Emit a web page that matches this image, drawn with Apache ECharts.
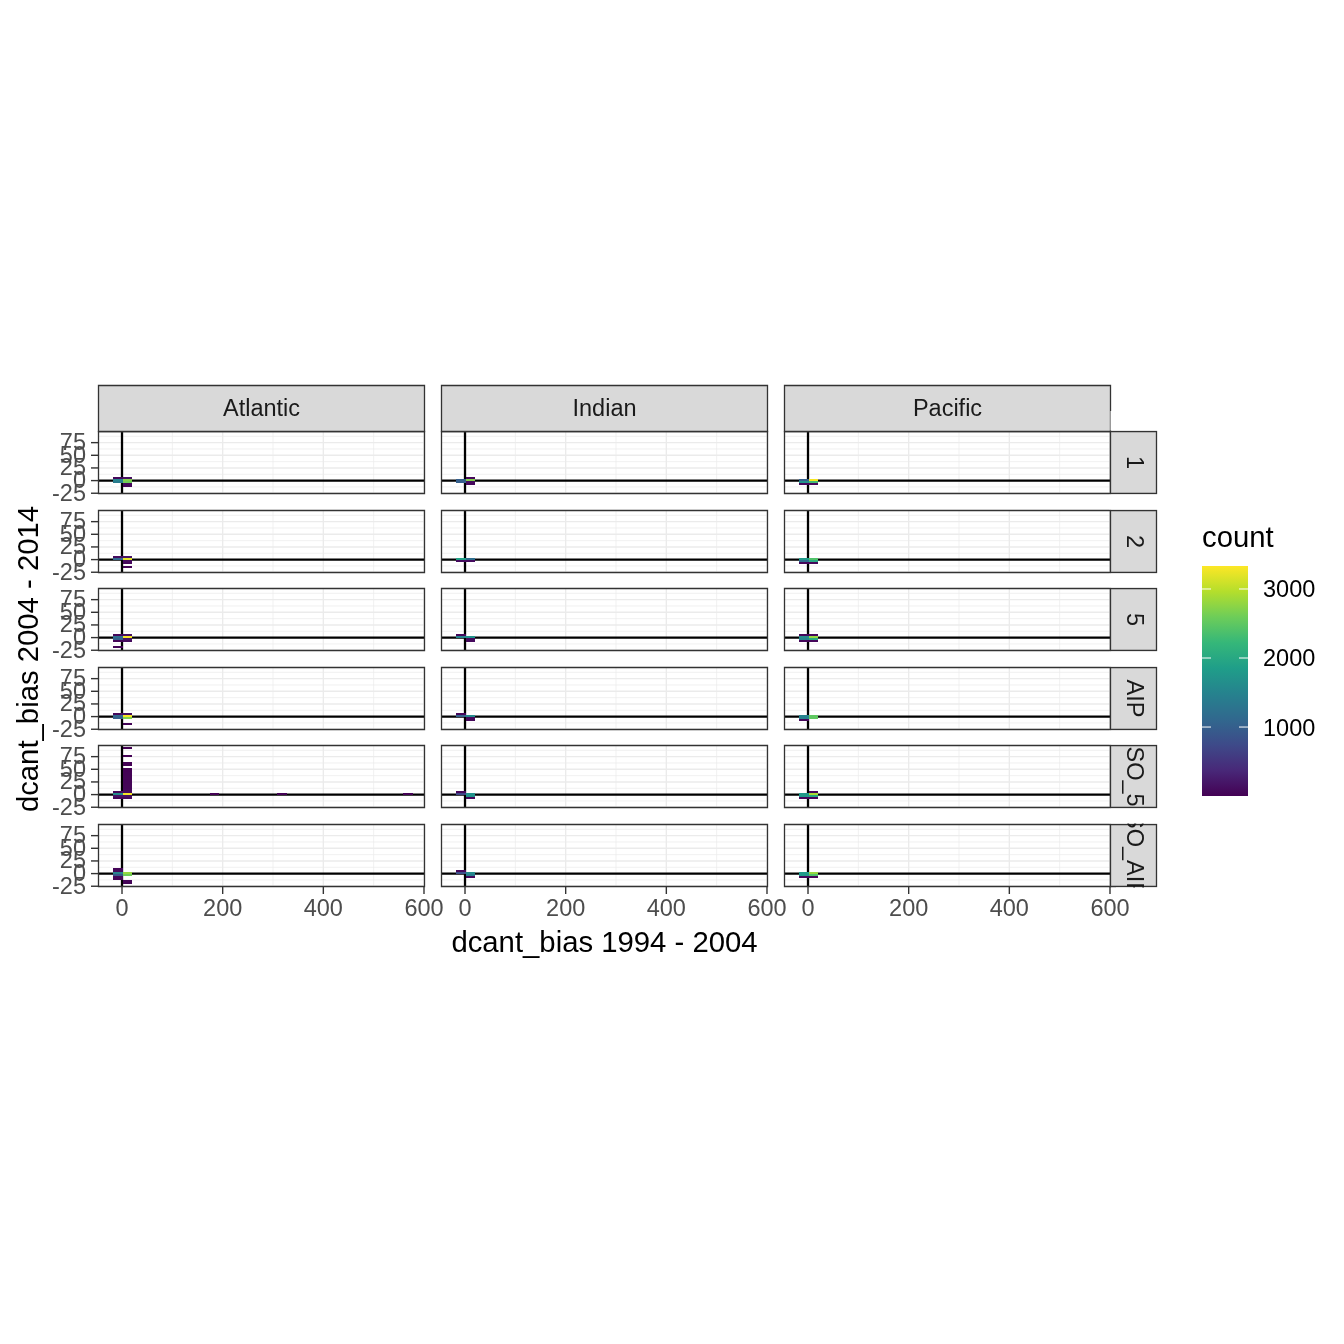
<!DOCTYPE html>
<html><head><meta charset="utf-8">
<script src="https://cdn.jsdelivr.net/npm/echarts@6/dist/echarts.min.js"></script>
<style>html,body{margin:0;padding:0;background:#fff}#c{width:1344px;height:1344px}</style>
</head><body><div id="c"></div>
<script>
// ---------------- data ----------------
const columns = ['Atlantic', 'Indian', 'Pacific'];
const rows = ['1', '2', '5', 'AIP', 'SO_5', 'SO_AIP'];
const xTicks = [0, 200, 400, 600];
const xMinor = [100, 300, 500];
const yTicks = [-25, 0, 25, 50, 75];
const yMinor = [-12.5, 12.5, 37.5, 62.5, 87.5];
const legendTicks = [1000, 2000, 3000];
const countMin = 1, countMax = 3333;
const binW = 19.2, binH = 4.1;
const xTitle = 'dcant_bias 1994 - 2004';
const yTitle = 'dcant_bias 2004 - 2014';
const legendTitle = 'count';

// bins: [x start, y start, count]
const atlantic_1 = [[-17.9,3.7,60],[-17.9,-0.4,1500],[-17.9,-4.5,1400],[1.3,3.7,150],[1.3,-0.4,2700],[1.3,-4.5,2600],[1.3,-8.6,80],[1.3,-12.7,40]];
const atlantic_2 = [[-17.9,3.7,100],[-17.9,-0.4,1100],[1.3,3.7,200],[1.3,-0.4,3200],[1.3,-4.5,100],[1.3,-8.6,60],[1.3,-16.8,20]];
const atlantic_5 = [[-17.9,3.7,60],[-17.9,-0.4,1200],[-17.9,-4.5,1000],[-17.9,-8.6,30],[-17.9,-20.9,20],[1.3,3.7,150],[1.3,-0.4,3300],[1.3,-4.5,200],[1.3,-8.6,100]];
const atlantic_AIP = [[-17.9,3.7,80],[-17.9,-0.4,1100],[-17.9,-4.5,1000],[1.3,3.7,120],[1.3,-0.4,3300],[1.3,-4.5,2700],[1.3,-16.8,30]];
const atlantic_SO_5 = [[-17.9,3.7,80],[-17.9,-0.4,1600],[-17.9,-4.5,200],[-17.9,-8.6,50],
  [1.3,-8.6,80],[1.3,-4.5,150],[1.3,-0.4,3300],[1.3,3.7,100],[1.3,7.8,60],[1.3,11.9,40],[1.3,16,35],[1.3,20.1,30],[1.3,24.2,30],[1.3,28.3,25],[1.3,32.4,25],[1.3,36.5,20],[1.3,40.6,20],[1.3,44.7,15],[1.3,48.8,15],[1.3,57,10],[1.3,61.1,10],[1.3,73.4,8],[1.3,89.8,5],
  [174.1,-0.4,10],[308.5,-0.4,10],[558.1,-0.4,10]];
const atlantic_SO_AIP = [[-17.9,7.8,30],[-17.9,3.7,80],[-17.9,-0.4,1500],[-17.9,-4.5,900],[-17.9,-8.6,50],[-17.9,-12.7,30],[1.3,-0.4,2800],[1.3,-4.5,2600],[1.3,-16.8,40],[1.3,-20.9,30]];

const indian_1 = [[-17.9,-0.4,1000],[-17.9,-4.5,1000],[1.3,3.7,60],[1.3,-0.4,2700],[1.3,-4.5,100],[1.3,-8.6,60]];
const indian_2 = [[-17.9,-0.4,1900],[-17.9,-4.5,100],[1.3,-0.4,1200],[1.3,-4.5,100]];
const indian_5 = [[-17.9,3.7,60],[-17.9,-0.4,1500],[1.3,-0.4,1700],[1.3,-4.5,100],[1.3,-8.6,80]];
const indian_AIP = [[-17.9,3.7,60],[-17.9,-0.4,1000],[1.3,-0.4,1600],[1.3,-4.5,80],[1.3,-8.6,60]];
const indian_SO_5 = [[-17.9,3.7,60],[-17.9,-0.4,700],[1.3,-0.4,1700],[1.3,-4.5,1700],[1.3,-8.6,60]];
const indian_SO_AIP = [[-17.9,3.7,60],[-17.9,-0.4,800],[1.3,-0.4,1600],[1.3,-4.5,1400],[1.3,-8.6,60]];

const pacific_1 = [[-17.9,-0.4,1000],[-17.9,-4.5,1700],[-17.9,-8.6,60],[1.3,-0.4,3300],[1.3,-4.5,2300],[1.3,-8.6,60]];
const pacific_2 = [[-17.9,-0.4,1800],[-17.9,-4.5,1200],[-17.9,-8.6,60],[1.3,-0.4,2400],[1.3,-4.5,2000],[1.3,-8.6,60]];
const pacific_5 = [[-17.9,3.7,60],[-17.9,-0.4,1600],[-17.9,-4.5,1500],[-17.9,-8.6,60],[1.3,3.7,60],[1.3,-0.4,2800],[1.3,-4.5,2000],[1.3,-8.6,60]];
const pacific_AIP = [[-17.9,-0.4,1500],[-17.9,-4.5,1500],[-17.9,-8.6,60],[1.3,-0.4,2500],[1.3,-4.5,2500]];
const pacific_SO_5 = [[-17.9,-0.4,1800],[-17.9,-4.5,1800],[-17.9,-8.6,60],[1.3,3.7,60],[1.3,-0.4,2900],[1.3,-4.5,2000],[1.3,-8.6,60]];
const pacific_SO_AIP = [[-17.9,-0.4,1800],[-17.9,-4.5,1800],[-17.9,-8.6,60],[1.3,-0.4,2800],[1.3,-4.5,2400],[1.3,-8.6,60]];

const panels = {
  Atlantic: [atlantic_1, atlantic_2, atlantic_5, atlantic_AIP, atlantic_SO_5, atlantic_SO_AIP],
  Indian: [indian_1, indian_2, indian_5, indian_AIP, indian_SO_5, indian_SO_AIP],
  Pacific: [pacific_1, pacific_2, pacific_5, pacific_AIP, pacific_SO_5, pacific_SO_AIP]
};

// ---------------- layout / style ----------------
const FONT = '"Liberation Sans", Arial, sans-serif';
const viridis = ['#440154','#482878','#3E4A89','#31688E','#26828E','#1F9E89','#35B779','#6DCD59','#B4DE2C','#FDE725'];
const X_MIN = -47.7, X_MAX = 602, Y_MIN = -26.5, Y_MAX = 98;
const PL = 98, PW = 327, PSTEP = 343;
const PT = 431, PH = 63, RSTEP = 78.6;
const STRIP = 46;
const BORDER = '#333333';

function hex2rgb(h) { return [1,3,5].map(i => parseInt(h.slice(i, i+2), 16)); }
const viridisRGB = viridis.map(hex2rgb);
function colorFor(v) {
  let t = (v - countMin) / (countMax - countMin);
  t = Math.max(0, Math.min(1, t));
  const s = t * (viridisRGB.length - 1);
  const i = Math.min(Math.floor(s), viridisRGB.length - 2);
  const f = s - i;
  const a = viridisRGB[i], b = viridisRGB[i+1];
  return 'rgb(' + a.map((x, k) => Math.round(x + (b[k] - x) * f)).join(',') + ')';
}

const chart = echarts.init(document.getElementById('c'));
const grids = [], xAxes = [], yAxes = [], series = [], graphics = [];
const rowTop = r => Math.round(PT + RSTEP * r);

function makeGridRender(showX, showY) {
  return function (params, api) {
    const cs = params.coordSys;
    const ch = [];
    const v = (val, w) => { const px = api.coord([val, 0])[0]; ch.push({type:'line', shape:{x1:px,y1:cs.y,x2:px,y2:cs.y+cs.height}, style:{stroke:'#EBEBEB', lineWidth:w}}); };
    const h = (val, w) => { const py = api.coord([0, val])[1]; ch.push({type:'line', shape:{x1:cs.x,y1:py,x2:cs.x+cs.width,y2:py}, style:{stroke:'#EBEBEB', lineWidth:w}}); };
    xMinor.forEach(t => v(t, 0.7)); yMinor.forEach(t => h(t, 0.7));
    xTicks.forEach(t => v(t, 1.4)); yTicks.forEach(t => h(t, 1.4));
    if (showX) {
      xTicks.forEach(t => {
        const px = api.coord([t, 0])[0];
        const yb = cs.y + cs.height;
        ch.push({type:'line', shape:{x1:px,y1:yb,x2:px,y2:yb+7}, style:{stroke:BORDER, lineWidth:1.4}});
        ch.push({type:'text', x:px, y:yb + 23, style:{text:String(t), fill:'#4D4D4D', font:'23.5px ' + FONT, align:'center', verticalAlign:'middle'}});
      });
    }
    if (showY) {
      yTicks.forEach(t => {
        const py = api.coord([0, t])[1];
        ch.push({type:'line', shape:{x1:cs.x-7,y1:py,x2:cs.x,y2:py}, style:{stroke:BORDER, lineWidth:1.4}});
        ch.push({type:'text', x:cs.x - 12, y:py + 1, style:{text:String(t), fill:'#4D4D4D', font:'23.5px ' + FONT, align:'right', verticalAlign:'middle'}});
      });
    }
    return {type:'group', children: ch};
  };
}
function zeroRender(params, api) {
  const cs = params.coordSys;
  const p = api.coord([0, 0]);
  return {type:'group', children:[
    {type:'line', shape:{x1:cs.x,y1:p[1],x2:cs.x+cs.width,y2:p[1]}, style:{stroke:'#000', lineWidth:2.3}},
    {type:'line', shape:{x1:p[0],y1:cs.y,x2:p[0],y2:cs.y+cs.height}, style:{stroke:'#000', lineWidth:2.3}}
  ]};
}
function borderRender(params, api) {
  const cs = params.coordSys;
  return {type:'rect', shape:{x:cs.x + 0.5, y:cs.y + 0.5, width:cs.width - 1, height:cs.height - 1}, style:{fill:null, stroke:BORDER, lineWidth:1.3}};
}
function binRender(params, api) {
  const p0 = api.coord([api.value(0), api.value(1)]);
  const p1 = api.coord([api.value(2), api.value(3)]);
  const x0 = Math.round(p0[0]), x1 = Math.round(p1[0]);
  const yb = Math.round(p0[1]), yt = Math.round(p1[1]);
  return {type:'rect', shape:{x:x0, y:yt, width:Math.max(1, x1 - x0), height:Math.max(1, yb - yt)}, style:{fill: colorFor(api.value(4)), stroke:null, lineWidth:0}};
}

rows.forEach((rname, r) => {
  columns.forEach((cname, c) => {
    const i = r * columns.length + c;
    const left = PL + PSTEP * c, top = rowTop(r);
    grids.push({left, top, width: PW, height: PH, show: true, backgroundColor:'#fff', borderWidth:0, containLabel:false, outerBoundsMode:'none'});
    const bottom = r === rows.length - 1, leftCol = c === 0;
    const hidden = {axisLine:{show:false}, splitLine:{show:false}, minorSplitLine:{show:false}, axisTick:{show:false}, axisLabel:{show:false}};
    xAxes.push(Object.assign({gridIndex:i, type:'value', min:X_MIN, max:X_MAX}, hidden));
    yAxes.push(Object.assign({gridIndex:i, type:'value', min:Y_MIN, max:Y_MAX}, hidden));
    series.push({type:'custom', xAxisIndex:i, yAxisIndex:i, data:[[0,0]], renderItem:makeGridRender(bottom, leftCol), silent:true, z:1, clip:false});
    series.push({type:'custom', xAxisIndex:i, yAxisIndex:i, data:[[0,0]], renderItem:zeroRender, silent:true, z:2});
    const bins = panels[cname][r].map(b => [b[0], b[1], b[0] + binW, b[1] + binH, b[2]]);
    series.push({type:'custom', xAxisIndex:i, yAxisIndex:i, data:bins, renderItem:binRender, silent:true, z:3,
      encode:{x:[0,2], y:[1,3]}});
    series.push({type:'custom', xAxisIndex:i, yAxisIndex:i, data:[[0,0]], renderItem:borderRender, silent:true, z:4, clip:false});
  });
});

// top strips
columns.forEach((cname, c) => {
  const left = PL + PSTEP * c;
  graphics.push({type:'rect', shape:{x:left + 0.5, y:PT - STRIP + 0.5, width:PW - 1, height:STRIP}, style:{fill:'#D9D9D9', stroke:BORDER, lineWidth:1.3}, z:10});
  graphics.push({type:'text', x:left + PW/2, y:PT - STRIP/2 + 2, style:{text:cname, fill:'#1A1A1A', font:'23.5px ' + FONT, align:'center', verticalAlign:'middle'}, z:11});
});
// right strips
const SX = PL + PSTEP * 2 + PW;
rows.forEach((rname, r) => {
  const top = rowTop(r);
  graphics.push({type:'rect', shape:{x:SX - 0.5, y:top + 0.5, width:STRIP, height:PH - 1}, style:{fill:'#D9D9D9', stroke:BORDER, lineWidth:1.3}, z:10});
  graphics.push({type:'text', x:SX + STRIP/2 - 1, y:top + PH/2, rotation:-Math.PI/2, style:{text:rname, fill:'#1A1A1A', font:'23.5px ' + FONT, align:'center', verticalAlign:'middle'}, z:11});
});
// clip overflowing strip labels (white covers in the gaps)
rows.forEach((rname, r) => {
  if (r === rows.length - 1) return;
  const top = rowTop(r), next = rowTop(r + 1);
  graphics.push({type:'rect', shape:{x:SX - 1.5, y:top + PH + 0.6, width:STRIP + 3, height:next - top - PH - 1.2}, style:{fill:'#fff'}, z:12});
});
graphics.push({type:'rect', shape:{x:SX - 0.5, y:PT - 20, width:STRIP + 2, height:19.4}, style:{fill:'#fff'}, z:12});
graphics.push({type:'rect', shape:{x:SX + 5, y:rowTop(5) + PH + 0.6, width:STRIP, height:11.5}, style:{fill:'#fff'}, z:12});

// axis titles
graphics.push({type:'text', x:PL + (PSTEP*2 + PW)/2, y:944, style:{text:xTitle, fill:'#000', font:'29.3px ' + FONT, align:'center', verticalAlign:'middle'}, z:11});
graphics.push({type:'text', x:30, y:(PT + rowTop(5) + PH)/2, rotation:Math.PI/2, style:{text:yTitle, fill:'#000', font:'29.3px ' + FONT, align:'center', verticalAlign:'middle'}, z:11});

// legend colourbar
const LB = {x:1202, y:566, w:46, h:230};
graphics.push({type:'text', x:LB.x, y:539, style:{text:legendTitle, fill:'#000', font:'29.3px ' + FONT, align:'left', verticalAlign:'middle'}, z:11});
graphics.push({type:'rect', shape:{x:LB.x, y:LB.y, width:LB.w, height:LB.h},
  style:{fill:new echarts.graphic.LinearGradient(0, 0, 0, 1, viridis.slice().reverse().map((col, k) => ({offset:k/(viridis.length-1), color:col})))}, z:10});
legendTicks.forEach(t => {
  const y = LB.y + LB.h * (countMax - t) / (countMax - countMin);
  graphics.push({type:'line', shape:{x1:LB.x, y1:y, x2:LB.x + 9, y2:y}, style:{stroke:'#fff', lineWidth:1}, z:11});
  graphics.push({type:'line', shape:{x1:LB.x + LB.w - 9, y1:y, x2:LB.x + LB.w, y2:y}, style:{stroke:'#fff', lineWidth:1}, z:11});
  graphics.push({type:'text', x:LB.x + LB.w + 15, y:y + 2, style:{text:String(t), fill:'#000', font:'23.5px ' + FONT, align:'left', verticalAlign:'middle'}, z:11});
});

chart.setOption({
  animation:false,
  backgroundColor:'#fff',
  grid:grids, xAxis:xAxes, yAxis:yAxes, series,
  graphic:{elements:graphics}
});
</script></body></html>
